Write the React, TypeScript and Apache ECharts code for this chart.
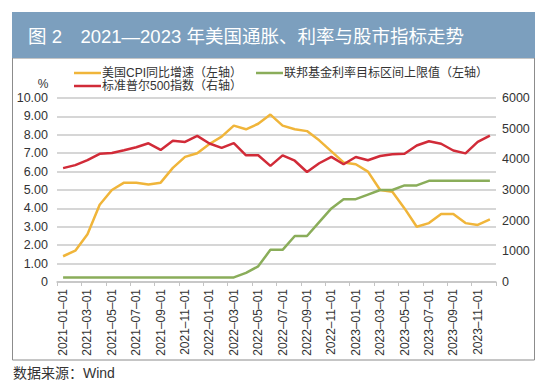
import React, { useEffect, useRef } from "react";
import * as echarts from "echarts";

const categories = [
  "2021-01-01", "2021-02-01", "2021-03-01", "2021-04-01", "2021-05-01", "2021-06-01",
  "2021-07-01", "2021-08-01", "2021-09-01", "2021-10-01", "2021-11-01", "2021-12-01",
  "2022-01-01", "2022-02-01", "2022-03-01", "2022-04-01", "2022-05-01", "2022-06-01",
  "2022-07-01", "2022-08-01", "2022-09-01", "2022-10-01", "2022-11-01", "2022-12-01",
  "2023-01-01", "2023-02-01", "2023-03-01", "2023-04-01", "2023-05-01", "2023-06-01",
  "2023-07-01", "2023-08-01", "2023-09-01", "2023-10-01", "2023-11-01", "2023-12-01",
];

const cpiYoY = [
  1.4, 1.7, 2.6, 4.2, 5.0, 5.4, 5.4, 5.3, 5.4, 6.2, 6.8, 7.0,
  7.5, 7.9, 8.5, 8.3, 8.6, 9.1, 8.5, 8.3, 8.2, 7.7, 7.1, 6.5,
  6.4, 6.0, 5.0, 4.9, 4.0, 3.0, 3.2, 3.7, 3.7, 3.2, 3.1, 3.4,
];

const fedUpper = [
  0.25, 0.25, 0.25, 0.25, 0.25, 0.25, 0.25, 0.25, 0.25, 0.25, 0.25, 0.25,
  0.25, 0.25, 0.25, 0.5, 0.85, 1.75, 1.75, 2.5, 2.5, 3.25, 4.0, 4.5,
  4.5, 4.75, 5.0, 5.0, 5.25, 5.25, 5.5, 5.5, 5.5, 5.5, 5.5, 5.5,
];

const sp500 = [
  3714, 3811, 3973, 4181, 4204, 4298, 4395, 4523, 4308, 4605, 4567, 4766,
  4516, 4374, 4530, 4132, 4132, 3785, 4130, 3955, 3586, 3872, 4080, 3840,
  4077, 3970, 4109, 4169, 4180, 4450, 4589, 4508, 4288, 4194, 4568, 4770,
];

const seriesNames = {
  cpi: "美国CPI同比增速（左轴）",
  fed: "联邦基金利率目标区间上限值（左轴）",
  sp: "标准普尔500指数（右轴）",
};

const titleText = "图 2　2021—2023 年美国通胀、利率与股市指标走势";
const sourceText = "数据来源：Wind";

const FONT = "'Liberation Sans', Arial, 'Noto Sans CJK SC', sans-serif";

export default function App() {
  const ref = useRef<HTMLDivElement>(null);

  useEffect(() => {
    document.body.style.margin = "0";
    if (!ref.current) return;
    const chart = echarts.init(ref.current, undefined, { renderer: "svg" });

    const legendBase = {
      orient: "horizontal",
      padding: 0,
      icon: "rect",
      itemWidth: 27,
      itemHeight: 2.5,
      itemGap: 0,
      textStyle: {
        fontSize: 12,
        lineHeight: 12,
        color: "#333",
        fontFamily: FONT,
        padding: [0, 0, 0, -4],
      },
      selectedMode: false,
    };

    chart.setOption({
      animation: false,
      backgroundColor: "#ffffff",
      textStyle: { fontFamily: FONT },
      graphic: [
        {
          type: "rect",
          shape: { x: 12, y: 12, width: 523, height: 46 },
          style: { fill: "#7c9fbe" },
          silent: true,
        },
        {
          type: "rect",
          shape: { x: 12.5, y: 58, width: 522, height: 302 },
          style: { fill: "#ffffff", stroke: "#8c8c8c", lineWidth: 1 },
          silent: true,
          z: -10,
        },
        {
          type: "text",
          x: 28,
          y: 36,
          style: {
            text: titleText,
            fill: "#ffffff",
            fontSize: 18.5,
            fontFamily: FONT,
            verticalAlign: "middle",
          },
        },
        {
          type: "text",
          x: 43,
          y: 84,
          style: {
            text: "%",
            fill: "#333",
            fontSize: 12,
            fontFamily: FONT,
            align: "center",
            verticalAlign: "middle",
          },
        },
        {
          type: "text",
          x: 13,
          y: 373,
          style: {
            text: sourceText,
            fill: "#333",
            fontSize: 14,
            fontFamily: FONT,
            verticalAlign: "middle",
          },
        },
      ],
      legend: [
        { ...legendBase, left: 74, top: 67, data: [seriesNames.cpi] },
        { ...legendBase, left: 256, top: 67, data: [seriesNames.fed] },
        { ...legendBase, left: 74, top: 80, data: [seriesNames.sp] },
      ],
      grid: { left: 57, right: 54, top: 98, height: 184, containLabel: false },
      xAxis: {
        type: "category",
        data: categories,
        boundaryGap: true,
        axisLine: { lineStyle: { color: "#c4c4c4", width: 1.5 } },
        axisTick: { show: true, interval: 1, length: 4, lineStyle: { color: "#c4c4c4" } },
        axisLabel: {
          interval: 1,
          rotate: 90,
          margin: 7,
          fontSize: 12,
          color: "#333",
          fontFamily: FONT,
          formatter: (v: string) => v.replace(/-/g, "–"),
        },
        splitLine: { show: false },
      },
      yAxis: [
        {
          type: "value",
          min: 0,
          max: 10,
          interval: 1,
          axisLine: { show: false },
          axisTick: { show: false },
          axisLabel: {
            margin: 9,
            fontSize: 12.5,
            color: "#333",
            fontFamily: FONT,
            formatter: (v: number) => (v === 0 ? "0" : v.toFixed(2)),
          },
          splitLine: { show: true, lineStyle: { color: "#c9c9c9", width: 1.5 } },
        },
        {
          type: "value",
          min: 0,
          max: 6000,
          interval: 1000,
          position: "right",
          axisLine: { show: false },
          axisTick: { show: false },
          axisLabel: {
            margin: 6,
            fontSize: 12.5,
            color: "#333",
            fontFamily: FONT,
            formatter: (v: number) => String(v),
          },
          splitLine: { show: false },
        },
      ],
      series: [
        {
          name: seriesNames.cpi,
          type: "line",
          yAxisIndex: 0,
          data: cpiYoY,
          symbol: "none",
          lineStyle: { color: "#f0b53a", width: 2.5 },
          itemStyle: { color: "#f0b53a" },
        },
        {
          name: seriesNames.fed,
          type: "line",
          yAxisIndex: 0,
          data: fedUpper,
          symbol: "none",
          lineStyle: { color: "#8aad5a", width: 2.5 },
          itemStyle: { color: "#8aad5a" },
        },
        {
          name: seriesNames.sp,
          type: "line",
          yAxisIndex: 1,
          data: sp500,
          symbol: "none",
          lineStyle: { color: "#d12b38", width: 2.5 },
          itemStyle: { color: "#d12b38" },
        },
      ],
    });

    return () => chart.dispose();
  }, []);

  return <div ref={ref} style={{ width: 550, height: 392 }} />;
}
